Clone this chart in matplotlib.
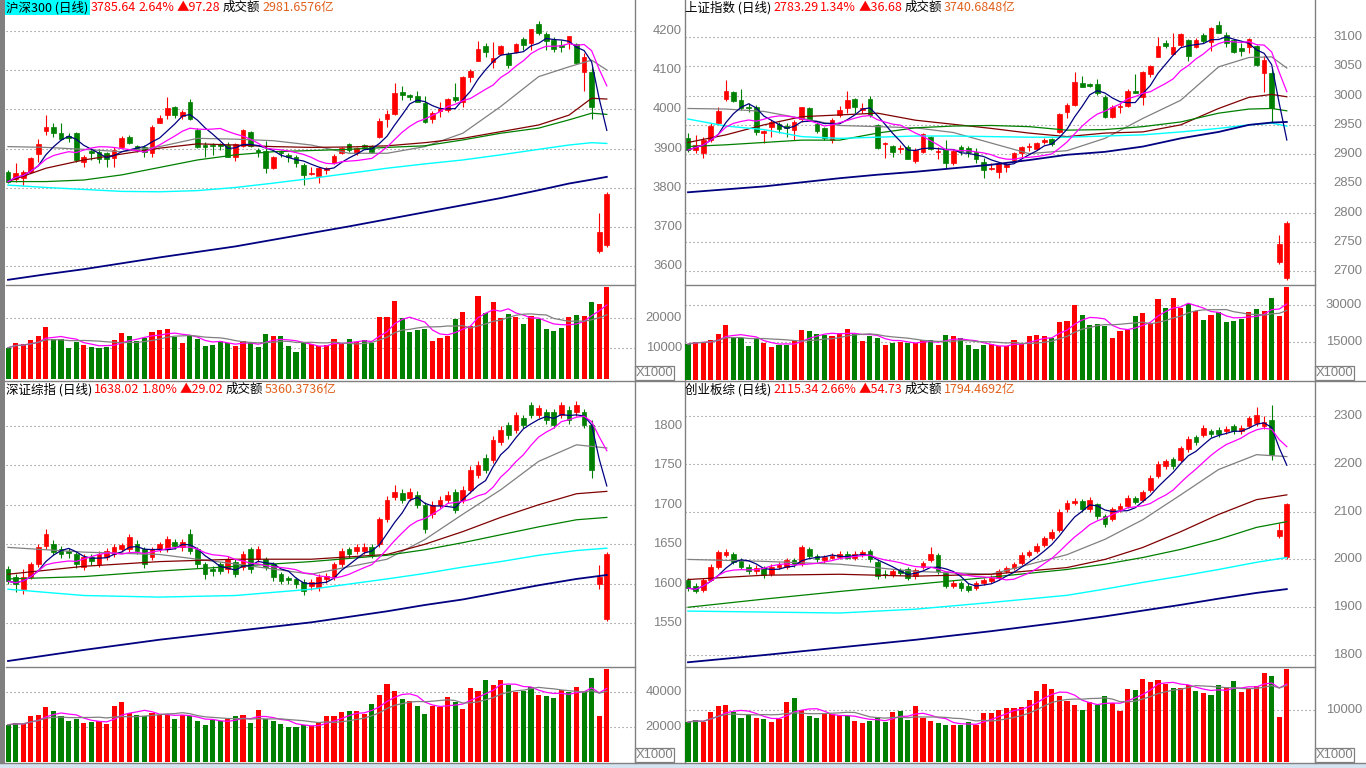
import numpy as np
import pandas as pd
import matplotlib
matplotlib.use('Agg')
import matplotlib.pyplot as plt
from matplotlib import transforms
from matplotlib.patches import Rectangle

plt.rcParams['font.family'] = ['Noto Sans CJK SC', 'DejaVu Sans']

W, H = 1366, 768
RED = '#ff0000'
GRN = '#008000'
NAVY = '#000080'
MAG = '#ff00ff'
GRAY = '#808080'
MAROON = '#800000'
CYAN = '#00ffff'
ORANGE = '#e0601c'

# ---------------- 沪深300 ----------------
tl_open = [3841.2, 3821.7, 3824.3, 3841.2, 3886.2, 3945.6, 3955.7, 3938.8, 3932.0, 3938.8,
           3866.7, 3894.7, 3892.1, 3887.9, 3875.2, 3904.9, 3930.3, 3906.5, 3904.9, 3887.9,
           3965.9, 3985.4, 4006.7, 3983.7, 4019.4, 3947.3, 3908.2, 3909.1, 3910.8, 3909.1,
           3877.7, 3907.4, 3943.0, 3896.4, 3894.7, 3849.7, 3892.1, 3883.6, 3879.4, 3858.2,
           3835.3, 3831.0, 3845.5, 3862.4, 3887.9, 3910.8, 3887.9, 3909.1, 3907.4, 3930.3,
           3974.4, 3988.0, 4044.0, 4036.3, 4033.8, 4015.1, 3974.4, 3995.6, 3998.2, 4030.4,
           4017.7, 4081.3, 4123.7, 4161.0, 4121.2, 4140.7, 4140.7, 4146.6, 4178.8, 4169.5,
           4216.2, 4191.6, 4176.3, 4163.6, 4172.1, 4166.1, 4095.7, 4095.7, 3640.0, 3655.0]
tl_close = [3815.8, 3837.0, 3841.2, 3875.2, 3911.6, 3955.7, 3938.8, 3924.4, 3927.8, 3870.9,
            3879.4, 3889.6, 3872.6, 3872.6, 3896.4, 3927.8, 3913.3, 3896.4, 3892.1, 3955.7,
            3977.0, 4002.4, 3985.4, 3994.0, 3974.4, 3904.9, 3904.9, 3905.7, 3907.4, 3879.4,
            3911.6, 3947.3, 3907.4, 3892.1, 3849.7, 3879.4, 3887.9, 3877.7, 3864.1, 3832.7,
            3838.7, 3851.4, 3849.7, 3881.1, 3902.3, 3896.4, 3900.6, 3904.9, 3892.1, 3971.0,
            3988.0, 4042.3, 4036.3, 4030.4, 4019.4, 3968.5, 3991.4, 3999.9, 4025.3, 4023.6,
            4081.3, 4098.3, 4152.6, 4146.6, 4129.6, 4161.0, 4112.7, 4166.1, 4163.6, 4203.4,
            4193.3, 4174.6, 4152.6, 4157.6, 4186.5, 4118.6, 4132.2, 4006.7, 3688.36, 3785.64]
tl_high = [3845.5, 3862.4, 3845.5, 3879.4, 3923.5, 3985.4, 3964.2, 3964.2, 3938.8, 3943.0,
           3883.6, 3900.6, 3898.1, 3892.1, 3904.9, 3932.0, 3934.5, 3909.1, 3909.1, 3960.0,
           3985.4, 4032.1, 4008.3, 3998.2, 4025.3, 3951.5, 3917.6, 3913.3, 3915.0, 3917.6,
           3915.0, 3949.0, 3945.6, 3900.6, 3920.1, 3881.1, 3896.4, 3887.9, 3883.6, 3862.4,
           3854.0, 3854.0, 3854.0, 3885.3, 3904.9, 3913.3, 3904.9, 3911.6, 3909.1, 3976.9,
           3998.2, 4066.0, 4059.2, 4038.9, 4047.4, 4033.8, 3995.6, 4019.4, 4027.9, 4066.0,
           4084.7, 4101.7, 4173.8, 4167.8, 4170.4, 4163.6, 4146.6, 4167.8, 4183.1, 4205.1,
           4224.7, 4197.5, 4183.1, 4176.3, 4186.5, 4167.8, 4142.4, 4108.5, 3736.0, 3790.0]
tl_low = [3811.5, 3815.8, 3807.3, 3837.0, 3866.7, 3934.5, 3930.3, 3921.8, 3917.6, 3866.7,
          3854.0, 3870.9, 3864.1, 3854.0, 3854.0, 3900.6, 3911.6, 3892.1, 3879.4, 3879.4,
          3964.2, 3974.4, 3977.0, 3974.4, 3972.7, 3900.6, 3879.4, 3883.6, 3896.4, 3877.7,
          3869.2, 3904.9, 3904.9, 3879.4, 3837.0, 3847.2, 3877.7, 3866.7, 3854.0, 3807.3,
          3832.7, 3813.2, 3835.3, 3860.7, 3886.2, 3892.1, 3883.6, 3900.6, 3887.9, 3926.1,
          3955.7, 3985.4, 4023.6, 4023.6, 4017.7, 3965.9, 3965.9, 3979.5, 3994.0, 4019.4,
          4005.0, 4070.3, 4123.7, 4133.9, 4104.2, 4138.1, 4104.2, 4144.1, 4150.9, 4150.9,
          4189.0, 4150.9, 4144.9, 4144.9, 4152.6, 4116.9, 4047.4, 3974.4, 3634.0, 3650.0]
tl_vol = [10200, 11600, 11400, 12700, 14000, 16800, 12900, 12900, 10200, 12200,
          11100, 10500, 10200, 10500, 12700, 15100, 14000, 12500, 13500, 15400,
          16000, 16300, 13600, 11600, 14000, 12900, 10800, 11100, 12500, 11600,
          10800, 12400, 11600, 10300, 14700, 14000, 14000, 10800, 8900, 11800,
          11300, 10800, 11100, 12900, 11600, 12900, 12200, 12700, 11800, 20100,
          20100, 25400, 19800, 15400, 16000, 16200, 12500, 13300, 14100, 19600,
          21800, 17300, 27100, 21400, 25000, 19800, 21200, 20300, 17900, 20500,
          19500, 16200, 15700, 16700, 20300, 20800, 20500, 25000, 24500, 29900]
TOP_IDX = [0, 5, 10, 15, 20, 25, 30, 35, 40, 45, 50, 55, 60, 65, 70, 74, 77, 79]
tl_ma20 = [3905, 3903, 3898, 3892, 3905, 3926, 3924, 3920, 3909, 3888, 3888, 3905, 3939, 4007, 4083, 4108, 4125, 4100]
tl_ma30 = [3816, 3850, 3871, 3886, 3901, 3912, 3909, 3905, 3903, 3904, 3907, 3915, 3926, 3943, 3960, 3985, 4028, 4026]
tl_ma60 = [3816, 3816, 3820, 3833, 3852, 3871, 3884, 3892, 3895, 3898, 3903, 3907, 3922, 3939, 3952, 3973, 3990, 3987]
tl_ma120 = [3807, 3801, 3796, 3791, 3790, 3793, 3801, 3812, 3824, 3837, 3850, 3861, 3871, 3884, 3898, 3909, 3915, 3913]
tl_ma250 = [3566, 3580, 3593, 3608, 3623, 3637, 3651, 3668, 3685, 3702, 3720, 3738, 3756, 3774, 3794, 3811, 3821, 3828]

# ---------------- 上证指数 ----------------
tr_open = [2927.1, 2907.1, 2902.6, 2924.2, 2953.8, 2993.6, 3006.7, 2992.5, 2981.1, 2981.1,
           2936.7, 2947.0, 2951.5, 2948.1, 2941.3, 2959.5, 2978.3, 2951.5, 2944.1, 2924.2,
           2966.9, 2978.3, 2993.6, 2975.4, 2994.2, 2949.8, 2916.8, 2914.0, 2908.9, 2912.8,
           2889.0, 2904.3, 2929.9, 2903.2, 2908.9, 2885.6, 2912.8, 2910.0, 2904.3, 2887.2,
           2874.2, 2870.2, 2877.6, 2890.1, 2902.6, 2911.7, 2908.9, 2921.4, 2925.3, 2938.4,
           2972.6, 2983.9, 3020.9, 3019.8, 3019.8, 2998.2, 2964.0, 2980.0, 2982.2, 3008.4,
           2998.2, 3036.8, 3066.4, 3090.3, 3071.0, 3086.3, 3094.9, 3083.5, 3103.4, 3092.0,
           3120.5, 3103.4, 3094.9, 3080.6, 3083.5, 3084.6, 3039.1, 3039.1, 2716.0, 2688.0]
tr_close = [2907.1, 2915.7, 2924.2, 2948.1, 2973.7, 3008.4, 2991.3, 2978.3, 2978.3, 2938.4,
            2939.6, 2954.4, 2942.4, 2945.3, 2955.5, 2980.0, 2958.4, 2940.1, 2927.1, 2958.4,
            2975.4, 2992.5, 2981.1, 2978.3, 2966.9, 2910.0, 2918.5, 2904.3, 2911.1, 2891.2,
            2907.1, 2934.5, 2908.3, 2905.5, 2885.6, 2906.0, 2906.0, 2904.3, 2891.2, 2873.0,
            2877.0, 2885.6, 2881.6, 2901.5, 2912.8, 2914.0, 2918.5, 2924.2, 2917.4, 2968.6,
            2983.9, 3023.8, 3014.1, 3016.4, 3003.8, 2964.0, 2981.1, 2982.2, 3008.4, 3005.0,
            3040.8, 3050.5, 3085.2, 3085.2, 3082.3, 3105.1, 3067.6, 3094.9, 3093.7, 3114.8,
            3107.4, 3090.3, 3074.9, 3076.7, 3096.0, 3052.2, 3060.7, 2978.3, 2746.61, 2783.29]
tr_high = [2935.6, 2932.8, 2929.9, 2952.7, 2980.0, 3026.6, 3007.0, 3010.7, 2986.8, 2983.9,
           2941.3, 2958.4, 2955.5, 2953.8, 2958.4, 2981.1, 2980.0, 2955.5, 2947.0, 2961.2,
           2982.2, 3008.4, 2995.3, 2987.9, 2999.9, 2951.5, 2921.4, 2915.7, 2915.7, 2915.7,
           2910.0, 2935.6, 2931.0, 2912.8, 2924.2, 2908.3, 2915.7, 2914.6, 2910.0, 2892.9,
           2884.4, 2887.2, 2884.4, 2904.3, 2914.0, 2919.7, 2920.2, 2927.1, 2927.1, 2970.9,
           2986.8, 3040.8, 3033.4, 3022.0, 3027.7, 3001.0, 2983.9, 2986.8, 3010.7, 3036.8,
           3042.5, 3052.2, 3099.4, 3094.9, 3106.3, 3106.3, 3096.0, 3097.7, 3106.3, 3116.5,
           3127.3, 3107.9, 3096.0, 3089.2, 3097.7, 3086.3, 3067.6, 3046.5, 2762.0, 2786.0]
tr_low = [2904.3, 2901.5, 2892.9, 2921.4, 2952.7, 2991.3, 2989.6, 2975.4, 2972.6, 2932.8,
          2918.5, 2929.9, 2935.6, 2929.9, 2924.2, 2955.5, 2957.2, 2935.6, 2924.2, 2918.5,
          2964.0, 2969.7, 2969.7, 2969.7, 2964.0, 2908.3, 2892.9, 2894.6, 2901.5, 2891.2,
          2884.4, 2902.6, 2907.1, 2891.2, 2875.9, 2881.6, 2898.6, 2894.6, 2884.4, 2858.8,
          2873.0, 2858.8, 2870.2, 2884.4, 2895.8, 2906.0, 2907.1, 2917.4, 2914.6, 2936.7,
          2961.2, 2982.2, 3014.1, 3014.1, 3001.0, 2961.2, 2961.2, 2969.7, 2981.1, 3003.8,
          2983.9, 3031.1, 3066.4, 3080.6, 3069.3, 3083.5, 3059.6, 3080.6, 3090.3, 3076.7,
          3106.3, 3083.5, 3072.1, 3067.6, 3072.1, 3050.5, 3006.7, 2953.8, 2712.0, 2685.0]
tr_vol = [14300, 15300, 15300, 15900, 18300, 22000, 17300, 16900, 13500, 16200,
          14600, 13300, 13900, 13900, 15700, 20000, 19500, 18300, 17900, 17500,
          18900, 20400, 18300, 15700, 17500, 16900, 13900, 14900, 15300, 14900,
          14600, 15900, 15900, 13900, 17900, 17500, 16600, 13900, 12300, 13900,
          14200, 13500, 13500, 15900, 14200, 17500, 17900, 17500, 16900, 23300,
          23700, 30000, 26000, 22000, 22400, 21600, 16900, 19700, 20000, 25600,
          26900, 22900, 32400, 28900, 32900, 28900, 30400, 27600, 24000, 26000,
          27200, 23300, 23700, 24400, 27300, 28400, 27600, 32900, 25700, 37400]
tr_ma20 = [2978, 2977, 2973, 2961, 2949, 2947, 2945, 2937, 2919, 2901, 2906, 2927, 2961, 2992, 3049, 3065, 3066, 3047]
tr_ma30 = [2920, 2933, 2950, 2964, 2967, 2970, 2958, 2951, 2944, 2936, 2930, 2936, 2938, 2950, 2978, 2997, 3002, 2998]
tr_ma60 = [2913, 2916, 2920, 2924, 2924, 2936, 2945, 2948, 2949, 2947, 2941, 2942, 2947, 2955, 2970, 2977, 2978, 2974]
tr_ma120 = [2960, 2948, 2942, 2930, 2927, 2929, 2931, 2931, 2930, 2929, 2929, 2931, 2933, 2938, 2944, 2950, 2953, 2948]
tr_ma250 = [2835, 2840, 2845, 2852, 2859, 2865, 2870, 2876, 2882, 2890, 2899, 2904, 2913, 2927, 2938, 2950, 2954, 2955]

# ---------------- 深证综指 ----------------
bl_open = [1618.2, 1608.1, 1592.9, 1608.1, 1624.5, 1647.3, 1649.8, 1643.5, 1641.0, 1637.1,
           1620.7, 1633.4, 1624.5, 1633.4, 1637.1, 1643.5, 1643.5, 1649.8, 1643.5, 1633.4,
           1643.5, 1643.5, 1652.3, 1646.0, 1662.4, 1643.5, 1624.5, 1618.2, 1624.5, 1618.2,
           1627.0, 1620.7, 1643.5, 1630.8, 1630.8, 1624.5, 1611.9, 1606.9, 1605.6, 1601.8,
           1596.7, 1595.5, 1605.6, 1608.1, 1624.5, 1643.5, 1641.0, 1641.0, 1646.0, 1649.8,
           1681.4, 1710.4, 1715.4, 1709.1, 1712.9, 1700.3, 1687.7, 1700.3, 1706.6, 1716.7,
           1706.6, 1719.2, 1738.2, 1759.6, 1757.1, 1779.8, 1801.3, 1795.0, 1810.1, 1826.5,
           1813.9, 1817.7, 1817.7, 1813.9, 1820.2, 1817.7, 1817.7, 1801.3, 1599.3, 1555.0]
bl_close = [1603.1, 1599.3, 1608.1, 1624.5, 1646.0, 1662.4, 1639.7, 1637.1, 1638.4, 1624.5,
            1633.4, 1628.3, 1637.1, 1641.0, 1646.0, 1648.5, 1658.6, 1641.0, 1624.5, 1643.5,
            1649.8, 1656.1, 1647.3, 1652.3, 1641.0, 1624.5, 1611.9, 1615.7, 1615.7, 1630.8,
            1611.9, 1637.1, 1618.2, 1643.5, 1620.7, 1608.1, 1603.1, 1604.3, 1599.3, 1590.4,
            1601.8, 1608.1, 1609.4, 1624.5, 1641.0, 1637.1, 1646.0, 1646.0, 1637.1, 1681.4,
            1706.6, 1716.7, 1706.6, 1716.7, 1700.3, 1668.7, 1700.3, 1706.6, 1712.9, 1694.0,
            1719.2, 1744.5, 1750.8, 1744.5, 1782.4, 1795.0, 1788.7, 1813.9, 1801.3, 1813.9,
            1822.8, 1807.6, 1801.3, 1826.5, 1807.6, 1826.5, 1801.3, 1744.5, 1609.00, 1638.02]
bl_high = [1622, 1612, 1618, 1628, 1650, 1668.7, 1655, 1648, 1645, 1640,
           1637, 1637, 1641, 1645, 1650, 1652, 1663, 1655, 1647, 1647,
           1653, 1660, 1657, 1656, 1668.7, 1647, 1628, 1623, 1628, 1635,
           1631, 1641, 1647, 1648, 1634, 1628, 1615, 1610, 1609, 1606,
           1606, 1612, 1614, 1628, 1645, 1647, 1650, 1651, 1650, 1685,
           1711, 1725.5, 1720, 1721, 1717, 1704, 1705, 1711, 1717, 1720,
           1724, 1749, 1755, 1764, 1787, 1800, 1805, 1818, 1814, 1830.3,
           1827, 1822, 1822, 1830.3, 1825, 1831, 1822, 1807.6, 1624, 1640]
bl_low = [1599, 1589, 1587, 1606, 1621, 1644, 1636, 1632, 1633, 1620,
          1617, 1624, 1621, 1630, 1634, 1640, 1640, 1637, 1620, 1630,
          1640, 1640, 1644, 1642, 1637, 1620, 1605.6, 1610, 1612, 1614,
          1608, 1617, 1614, 1627, 1617, 1604, 1599, 1599, 1594, 1586,
          1592, 1591, 1601, 1605, 1621, 1633, 1637, 1638, 1633, 1646,
          1678, 1706, 1702, 1705, 1696, 1664, 1683, 1696, 1702, 1690,
          1702, 1715, 1734, 1740, 1753, 1776, 1784, 1791, 1797, 1810,
          1810, 1803, 1797, 1810, 1803, 1813, 1797, 1734.4, 1593, 1553]
bl_vol = [21300, 22300, 21700, 26300, 27100, 31400, 29000, 26300, 23200, 24800,
          22300, 22700, 23200, 21700, 32200, 34100, 28200, 27100, 26100, 28200,
          27100, 27100, 24800, 27100, 26300, 23200, 21300, 23800, 23200, 24800,
          26300, 27100, 22300, 29500, 24800, 23200, 21700, 19800, 20000, 21300,
          20600, 22300, 26300, 26300, 28600, 29000, 29000, 27600, 33300, 38500,
          44800, 40600, 35800, 35100, 32200, 27600, 32200, 31600, 37100, 34300,
          30500, 42500, 40600, 47100, 44200, 47100, 43800, 40000, 40600, 42900,
          38100, 37500, 36800, 41000, 40000, 42900, 39900, 48200, 26300, 53300]
BOT_IDX = [0, 10, 20, 30, 40, 50, 55, 60, 65, 70, 75, 79]
bl_ma20 = [1646, 1640, 1637, 1625, 1612, 1631, 1656, 1688, 1719, 1755, 1776, 1772]
bl_ma30 = [1612, 1622, 1628, 1631, 1631, 1637, 1650, 1666, 1684, 1700, 1714, 1717]
bl_ma60 = [1606, 1609, 1616, 1622, 1628, 1636, 1643, 1652, 1662, 1672, 1681, 1684]
bl_ma120 = [1593, 1585, 1583, 1585, 1593, 1606, 1613, 1621, 1628, 1636, 1642, 1645]
bl_ma250 = [1502, 1516, 1529, 1540, 1551, 1565, 1573, 1580, 1589, 1598, 1606, 1611]

# ---------------- 创业板综 ----------------
br_open = [1958, 1945, 1937, 1958, 1985, 2010, 2012, 1997, 1985, 1975,
           1982, 1970, 1984, 1985, 1998, 1990, 2022, 2008, 1998, 2004,
           2006, 2012, 2002, 2010, 2018, 1995, 1970, 1968, 1978, 1980,
           1965, 1985, 1998, 2010, 1972, 1945, 1950, 1945, 1940, 1950,
           1955, 1962, 1975, 1982, 1992, 2010, 2018, 2030, 2045, 2062,
           2105, 2118, 2122, 2105, 2115, 2090, 2085, 2105, 2112, 2128,
           2125, 2145, 2175, 2195, 2210, 2208, 2230, 2255, 2260, 2268,
           2270, 2268, 2278, 2268, 2280, 2285, 2280, 2292, 2048, 2006]
br_close = [1940, 1935, 1958, 1985, 2015, 2016, 1995, 1985, 1975, 1982,
            1968, 1985, 1988, 1998, 1990, 2025, 2008, 2000, 2005, 2008,
            2012, 2004, 2012, 2015, 2000, 1965, 1968, 1975, 1972, 1962,
            1978, 1992, 2012, 1975, 1945, 1950, 1940, 1937, 1950, 1956,
            1962, 1975, 1982, 1990, 2010, 2015, 2028, 2045, 2058, 2100,
            2118, 2122, 2105, 2125, 2090, 2075, 2105, 2112, 2128, 2120,
            2140, 2170, 2200, 2205, 2195, 2232, 2252, 2245, 2275, 2262,
            2262, 2273, 2268, 2275, 2295, 2302, 2288, 2219, 2060.61, 2115.34]
br_high = [1962, 1950, 1962, 1990, 2020, 2022, 2016, 2002, 1990, 1988,
           1986, 1990, 1994, 2004, 2003, 2030, 2026, 2012, 2010, 2014,
           2018, 2017, 2018, 2020, 2022, 1998, 1978, 1980, 1982, 1984,
           1982, 1997, 2025, 2014, 1976, 1956, 1954, 1950, 1955, 1961,
           1967, 1980, 1987, 1995, 2015, 2020, 2034, 2050, 2064, 2105,
           2124, 2128, 2126, 2130, 2119, 2095, 2110, 2118, 2134, 2133,
           2146, 2176, 2206, 2211, 2215, 2238, 2258, 2260, 2281, 2273,
           2276, 2280, 2283, 2281, 2300, 2318, 2300, 2323, 2077, 2118]
br_low = [1935, 1930, 1932, 1954, 1980, 2005, 1990, 1980, 1970, 1970,
          1962, 1966, 1980, 1980, 1985, 1986, 2003, 1995, 1993, 2000,
          2001, 2000, 1998, 2005, 1995, 1960, 1962, 1964, 1967, 1957,
          1960, 1980, 1995, 1970, 1940, 1940, 1935, 1932, 1936, 1946,
          1951, 1958, 1971, 1978, 1988, 2005, 2014, 2026, 2040, 2058,
          2100, 2113, 2100, 2100, 2085, 2068, 2080, 2100, 2108, 2115,
          2120, 2140, 2170, 2190, 2189, 2203, 2225, 2240, 2255, 2256,
          2257, 2263, 2262, 2263, 2275, 2280, 2272, 2208, 2044, 2001]
br_vol = [7700, 8100, 7700, 9700, 10800, 11000, 9700, 8500, 9000, 8500,
          8300, 7700, 8300, 11600, 12300, 10000, 8900, 8500, 9200, 9200,
          9000, 8800, 7900, 7500, 7900, 8700, 7800, 9700, 9800, 8100,
          10800, 8500, 7900, 7500, 7100, 7100, 7200, 7700, 7200, 9400,
          9400, 10000, 10400, 10400, 10600, 11900, 13600, 15000, 14000, 12800,
          11700, 10900, 10100, 11600, 11000, 12800, 11300, 9900, 14000, 13800,
          16000, 15500, 15800, 15100, 14300, 14300, 14800, 13600, 13200, 13000,
          14900, 14300, 15600, 13500, 14200, 14700, 17100, 16600, 8700, 17900]
br_ma20 = [2000, 1996, 1990, 1975, 1969, 2010, 2042, 2083, 2135, 2188, 2219, 2215]
br_ma30 = [1958, 1967, 1969, 1965, 1969, 1983, 2000, 2025, 2058, 2094, 2125, 2135]
br_ma60 = [1900, 1917, 1933, 1948, 1963, 1979, 1990, 2004, 2021, 2042, 2067, 2079]
br_ma120 = [1892, 1890, 1888, 1896, 1910, 1925, 1938, 1952, 1965, 1979, 1994, 2004]
br_ma250 = [1785, 1800, 1816, 1832, 1850, 1870, 1881, 1893, 1905, 1918, 1930, 1938]

titles = {
    'tl': ['沪深300 (日线)', '3785.64', '2.64%', '▲97.28', '成交额', '2981.6576亿'],
    'tr': ['上证指数 (日线)', '2783.29', '1.34%', '▲36.68', '成交额', '3740.6848亿'],
    'bl': ['深证综指 (日线)', '1638.02', '1.80%', '▲29.02', '成交额', '5360.3736亿'],
    'br': ['创业板综 (日线)', '2115.34', '2.66%', '▲54.73', '成交额', '1794.4692亿'],
}
title_colors = ['black', RED, RED, RED, 'black', ORANGE]
title_dx = [1, 84, 133, 172, 216, 255]

fig = plt.figure(figsize=(W / 100, H / 100), dpi=100)
bg = fig.add_axes([0, 0, 1, 1])
bg.set_xlim(0, W)
bg.set_ylim(H, 0)
bg.axis('off')
bg.set_zorder(0)
renderer = fig.canvas.get_renderer()


def px_axes(x0, y0, x1, y1):
    a = fig.add_axes([x0 / W, 1 - y1 / H, (x1 - x0) / W, (y1 - y0) / H])
    a.set_facecolor('none')
    a.set_zorder(1)
    for s in a.spines.values():
        s.set_visible(False)
    a.set_xticks([])
    a.set_yticks([])
    return a


def labels(ax, ticks, label_x, grid=True):
    tr = transforms.blended_transform_factory(bg.transData, ax.transData)
    for t in ticks:
        if grid:
            ax.axhline(t, color=GRAY, lw=0.8, ls=(0, (1, 2.6)), zorder=1)
        ax.text(label_x, t, str(t), transform=tr, ha='right', va='center',
                fontsize=9.4, color=GRAY, family='Liberation Sans', clip_on=False)


def title_line(key, x0, yc):
    x = x0
    for k, (txt, cc, dx) in enumerate(zip(titles[key], title_colors, title_dx)):
        x = max(x, x0 + dx)
        t = bg.text(x, yc, txt, color=cc, fontsize=9, va='center', ha='left', zorder=3)
        w = t.get_window_extent(renderer).width
        if key == 'tl' and k == 0:
            bg.add_patch(Rectangle((x0, yc - 7.5), w + 3, 15, color=CYAN, lw=0, zorder=2))
        x = x + w + 2


def panel(key, x0, x1, y0, first_x, o, h, l, c, v, idx, mas,
          pylim, ptick, vylim, vtick, label_x):
    o, h, l, c, v = map(np.asarray, (o, h, l, c, v))
    n = len(c)
    x = np.arange(n)
    step = 7.58
    xl = ((x0 - first_x) / step, (x1 - first_x) / step)
    axp = px_axes(x0, y0 + 15, x1, y0 + 285)
    axv = px_axes(x0, y0 + 285, x1, y0 + 380)
    for a in (axp, axv):
        a.set_xlim(*xl)
    axp.set_ylim(*pylim)
    axv.set_ylim(*vylim)

    col = np.where(c >= o, RED, GRN)
    axp.vlines(x, l, h, colors=col, lw=0.8, zorder=2)
    axp.bar(x, np.abs(c - o), bottom=np.minimum(o, c), width=0.62,
            color=col, edgecolor=col, lw=0.5, zorder=2)
    s = pd.Series(c)
    axp.plot(x, s.rolling(5, min_periods=1).mean(), color=NAVY, lw=0.9, zorder=4)
    axp.plot(x, s.rolling(10, min_periods=1).mean(), color=MAG, lw=0.9, zorder=4)
    for vals, cc, lw in zip(mas, [GRAY, MAROON, GRN, CYAN, NAVY],
                            [0.9, 0.9, 0.9, 1.0, 1.3]):
        axp.plot(idx, vals, color=cc, lw=lw, zorder=3)
    labels(axp, ptick, label_x)

    axv.bar(x, v, width=0.68, color=col, lw=0, zorder=2)
    sv = pd.Series(v)
    axv.plot(x, sv.rolling(5, min_periods=1).mean(), color=MAG, lw=0.9, zorder=3)
    axv.plot(x, sv.rolling(10, min_periods=1).mean(), color=GRAY, lw=0.9, zorder=3)
    labels(axv, vtick, label_x)

    title_line(key, x0 - 1, y0 + 7.5)

    # x1000 box
    bx = x1
    bg.add_patch(Rectangle((bx, y0 + 366), 39, 14, facecolor='white',
                           edgecolor=GRAY, lw=0.9, zorder=2))
    bg.text(bx + 19.5, y0 + 373.5, 'X1000', ha='center', va='center',
            fontsize=9.4, color=GRAY, family='Liberation Sans', zorder=3)
    # separator between price and volume
    bg.plot([x0, x1], [y0 + 285, y0 + 285], color=GRAY, lw=1.0)


panel('tl', 6, 635, 0, 8, tl_open, tl_high, tl_low, tl_close, tl_vol, TOP_IDX,
      [tl_ma20, tl_ma30, tl_ma60, tl_ma120, tl_ma250],
      (3552.8, 4239.9), [4200, 4100, 4000, 3900, 3800, 3700, 3600],
      (-326, 30653), [20000, 10000], 682)
panel('tr', 685, 1315, 0, 688, tr_open, tr_high, tr_low, tr_close, tr_vol, TOP_IDX,
      [tr_ma20, tr_ma30, tr_ma60, tr_ma120, tr_ma250],
      (2676.8, 3137.5), [3100, 3050, 3000, 2950, 2900, 2850, 2800, 2750, 2700],
      (-134, 38028), [30000, 15000], 1362)
panel('bl', 6, 635, 382, 8, bl_open, bl_high, bl_low, bl_close, bl_vol, BOT_IDX,
      [bl_ma20, bl_ma30, bl_ma60, bl_ma120, bl_ma250],
      (1494.4, 1836.6), [1800, 1750, 1700, 1650, 1600, 1550],
      (0, 54300), [40000, 20000], 682)
panel('br', 685, 1315, 382, 688, br_open, br_high, br_low, br_close, br_vol, BOT_IDX,
      [br_ma20, br_ma30, br_ma60, br_ma120, br_ma250],
      (1775.1, 2339.6), [2300, 2200, 2100, 2000, 1900, 1800],
      (0, 18300), [10000], 1362)

# frame lines
for xv in (635, 685, 1315):
    bg.plot([xv, xv], [0, 763], color=GRAY, lw=1.0)
bg.plot([0, W], [381, 381], color=GRAY, lw=1.0)
bg.plot([0, W], [763, 763], color=GRAY, lw=1.0)
bg.add_patch(Rectangle((0, 0), 5, 768, color='#808080', lw=0))
bg.add_patch(Rectangle((0, 763.5), W, 5, color='#d6e3f0', lw=0))

fig.savefig('out.png', dpi=100)
